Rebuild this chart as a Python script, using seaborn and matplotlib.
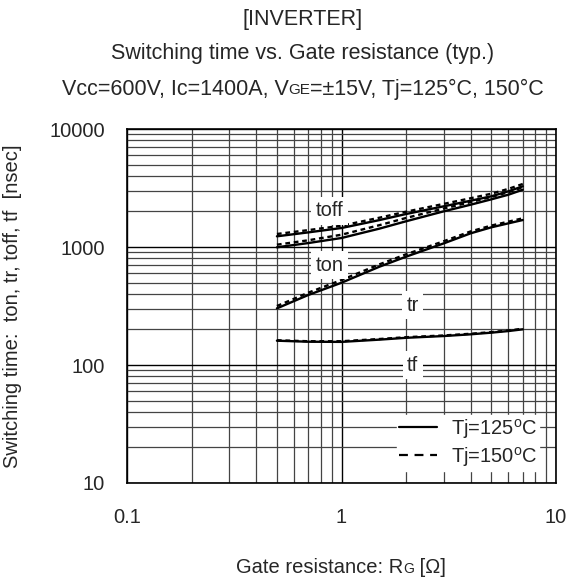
import numpy as np
import pandas as pd
import matplotlib
matplotlib.use("Agg")
import matplotlib.pyplot as plt
from matplotlib.lines import Line2D
from matplotlib.ticker import LogLocator, FixedLocator, FixedFormatter, NullFormatter
import seaborn as sns

# data (gate resistance in ohm, times in nsec)
rg = [0.5, 0.7, 1, 1.5, 2, 3, 4, 5, 6, 7]

toff_125 = [1232, 1330, 1449, 1690, 1904, 2213, 2467, 2690, 2965, 3268]
toff_150 = [1289, 1390, 1515, 1770, 1991, 2320, 2590, 2830, 3110, 3420]
ton_125 = [994, 1080, 1192, 1430, 1652, 2007, 2283, 2536, 2775, 3059]
ton_150 = [1046, 1140, 1271, 1530, 1762, 2120, 2400, 2660, 2910, 3207]
tr_125 = [302, 392, 498, 680, 828, 1074, 1306, 1469, 1587, 1693]
tr_150 = [316, 410, 525, 712, 867, 1120, 1355, 1520, 1640, 1751]
tf_125 = [160.7, 157.5, 157, 164, 170, 176, 182, 188, 194, 200.7]
tf_150 = [162, 159, 159, 166, 172, 178, 184, 190, 196, 203]

series = {
    ("toff", "125"): toff_125, ("toff", "150"): toff_150,
    ("ton", "125"): ton_125, ("ton", "150"): ton_150,
    ("tr", "125"): tr_125, ("tr", "150"): tr_150,
    ("tf", "125"): tf_125, ("tf", "150"): tf_150,
}

rows = []
for (name, tj), vals in series.items():
    for x, v in zip(rg, vals):
        rows.append({"Rg": x, "t": v, "curve": name + tj, "Tj": tj})
df = pd.DataFrame(rows)

# curve labels and their spots
label_names = ["toff", "ton", "tr", "tf"]
label_x = [0.88, 0.88, 2.15, 2.15]
label_y = [2019, 703, 322, 100]

sns.set_style("white")
plt.rcParams["font.family"] = ["Liberation Sans", "DejaVu Sans"]
plt.rcParams["mathtext.fontset"] = "custom"
plt.rcParams["mathtext.rm"] = "Liberation Sans"

FS = 14.5

fig = plt.figure(figsize=(5.69, 5.78), dpi=100)
ax = fig.add_axes([127 / 569, 1 - 483 / 578, 429 / 569, 354 / 578])

sns.lineplot(
    data=df, x="Rg", y="t", units="curve", estimator=None,
    style="Tj", dashes={"125": "", "150": (2.0, 1.6)},
    color="black", linewidth=1.7, legend=False, ax=ax, zorder=3
)

ax.set_xscale("log")
ax.set_yscale("log")
ax.set_xlim(0.1, 10)
ax.set_ylim(10, 10000)

ax.xaxis.set_major_locator(FixedLocator([0.1, 1, 10]))
ax.xaxis.set_major_formatter(FixedFormatter(["0.1", "1", "10"]))
ax.yaxis.set_major_locator(FixedLocator([10, 100, 1000, 10000]))
ax.yaxis.set_major_formatter(FixedFormatter(["10", "100", "1000", "10000"]))
ax.xaxis.set_minor_locator(LogLocator(base=10, subs=np.arange(2, 10)))
ax.yaxis.set_minor_locator(LogLocator(base=10, subs=np.arange(2, 10)))
ax.xaxis.set_minor_formatter(NullFormatter())
ax.yaxis.set_minor_formatter(NullFormatter())

ax.grid(which="major", color="black", linewidth=1.0)
ax.grid(which="minor", color="#444444", linewidth=0.9)
ax.tick_params(which="both", length=0, labelsize=FS)
ax.tick_params(axis="y", pad=16)
ax.tick_params(axis="x", pad=18)
for s in ax.spines.values():
    s.set_color("black")
    s.set_linewidth(1.2)
ax.set_xlabel("")
ax.set_ylabel("Switching time:  ton, tr, toff, tf  [nsec]", fontsize=FS)
ax.yaxis.set_label_coords(-0.245, 0.5)

for name, x, y in zip(label_names, label_x, label_y):
    ax.text(x, y, name, fontsize=FS, ha="center", va="center", zorder=4,
            bbox=dict(facecolor="white", edgecolor="none", pad=3))

handles = [
    Line2D([], [], color="black", linewidth=1.6),
    Line2D([], [], color="black", linewidth=1.6, linestyle=(0, (4, 3))),
]
leg = ax.legend(handles, [r"Tj=125$^\mathregular{o}$C", r"Tj=150$^\mathregular{o}$C"],
                loc="lower right", bbox_to_anchor=(0.985, 0.006), fontsize=FS,
                frameon=True, fancybox=False, framealpha=1, edgecolor="white",
                handlelength=1.9, handletextpad=0.7, borderpad=0.1, labelspacing=0.2)
leg.set_zorder(5)


def mixed_text(xc, y_base, parts):
    # lay out text pieces of different sizes on one baseline, centred on xc (pixels)
    r = fig.canvas.get_renderer()
    objs = []
    for s, size in parts:
        t = fig.text(0, 0, s, fontsize=size, ha="left", va="baseline",
                     transform=None)
        objs.append(t)
    widths = [t.get_window_extent(r).width for t in objs]
    x = xc - sum(widths) / 2
    H = fig.bbox.height
    for t, w in zip(objs, widths):
        t.set_position((x, H - y_base))
        x += w


mixed_text(303, 25.5, [("[INVERTER]", 15.5)])
mixed_text(303, 59.5, [("Switching time vs. Gate resistance (typ.)", 15.5)])
mixed_text(303, 94.5, [("Vcc=600V, Ic=1400A, V", 15.5), ("GE", 11),
                       ("=±15V, Tj=125°C, 150°C", 15.5)])
mixed_text(341, 573, [("Gate resistance: R", FS), ("G", 10), (" [Ω]", FS)])

fig.savefig("out.png", dpi=100)
